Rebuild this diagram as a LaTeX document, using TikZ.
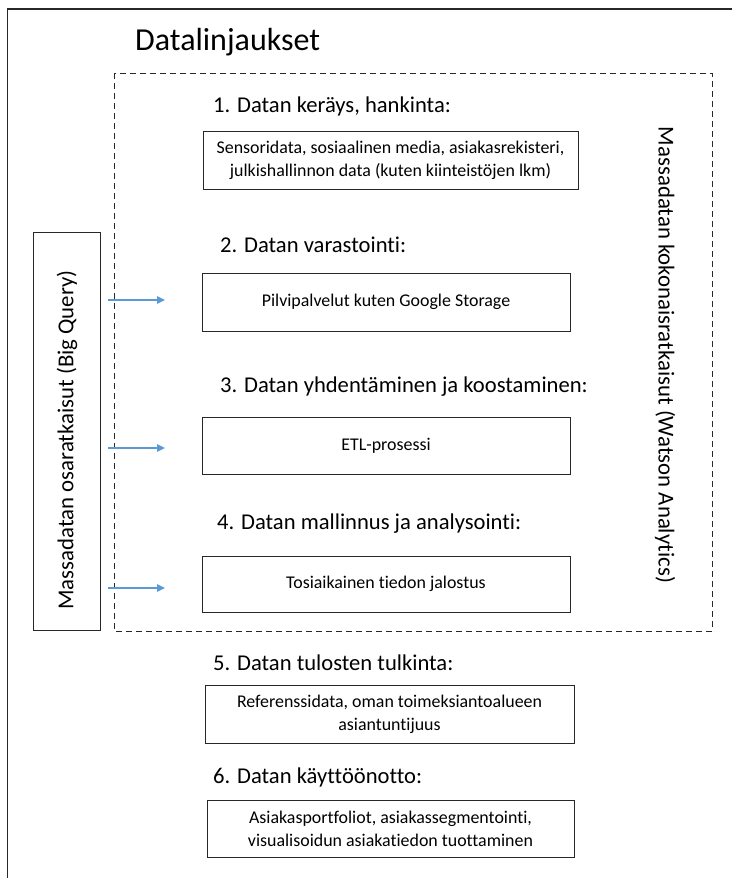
\documentclass[tikz,border=0pt]{standalone}
\usepackage{fontspec}
\setmainfont{Carlito}[Ligatures={NoCommon}]
\usetikzlibrary{arrows.meta}
\definecolor{arrowblue}{RGB}{91,155,213}
\definecolor{linegray}{RGB}{40,40,40}
\tikzset{
  x=1pt,y=-1pt,
  infobox/.style={draw=linegray, line width=1pt, minimum height=58pt, align=center, font=\fontsize{17.9}{23}\selectfont, inner sep=0pt},
  heading/.style={anchor=west, font=\fontsize{22.6}{26}\selectfont, inner sep=0pt},
  sidetext/.style={font=\fontsize{22.8}{26}\selectfont, inner sep=0pt},
  bluearrow/.style={draw=arrowblue, line width=1.1pt, -{Triangle[length=8pt,width=7.5pt]}}
}
\begin{document}
\begin{tikzpicture}
\useasboundingbox (0,0) rectangle (732,878);
% outer frame (only top and left visible)
\coordinate (ftl) at (7.5,9);
\coordinate (ftr) at (732,9);
\coordinate (fbl) at (7.5,878);
\draw[linegray, line width=1.4pt] (ftr) -- (ftl) -- (fbl);
% title
\node[anchor=west, font=\fontsize{32}{36}\selectfont, inner sep=0pt] (title) at (135,42) {Datalinjaukset};
% dashed region
\draw[linegray, line width=1pt, dash pattern=on 6pt off 4pt] (114,73) rectangle (712,631);
\node[sidetext, rotate=-90] (watson) at (665,355) {Massadatan kokonaisratkaisut (Watson Analytics)};
% left box
\node[draw=linegray, line width=1pt, minimum width=67pt, minimum height=398pt, inner sep=0pt] (bq) at (66.5,431) {};
\node[sidetext, rotate=90] (bqtext) at (67,440) {Massadatan osaratkaisut (Big Query)};
% headings
\node[heading] (h1) at (213,106) {1. Datan keräys, hankinta:};
\node[heading] (h2) at (220,245) {2. Datan varastointi:};
\node[heading] (h3) at (220,387) {3. Datan yhdentäminen ja koostaminen:};
\node[heading] (h4) at (217,524) {4. Datan mallinnus ja analysointi:};
\node[heading] (h5) at (213,663) {5. Datan tulosten tulkinta:};
\node[heading] (h6) at (213,777) {6. Datan käyttöönotto:};
% boxes
\node[infobox, minimum width=375pt] (b1) at (390.5,160) {Sensoridata, sosiaalinen media, asiakasrekisteri,\\julkishallinnon data (kuten kiinteistöjen lkm)};
\node[infobox, minimum width=368pt] (b2) at (386,302) {Pilvipalvelut kuten Google Storage};
\node[infobox, minimum width=368pt, minimum height=57pt] (b3) at (386,445.5) {ETL-prosessi};
\node[infobox, minimum width=368pt, minimum height=56pt] (b4) at (386,584) {Tosiaikainen tiedon jalostus};
\node[infobox, minimum width=369pt] (b5) at (389.5,714) {Referenssidata, oman toimeksiantoalueen\\asiantuntijuus};
\node[infobox, minimum width=367pt, minimum height=57pt] (b6) at (390.5,828.5) {Asiakasportfoliot, asiakassegmentointi,\\visualisoidun asiakatiedon tuottaminen};
% arrows
\coordinate (a2s) at (108,300);
\coordinate (a2e) at (165,300);
\coordinate (a3s) at (108,448);
\coordinate (a3e) at (165,448);
\coordinate (a4s) at (108,588);
\coordinate (a4e) at (165,588);
\draw[bluearrow] (a2s) -- (a2e);
\draw[bluearrow] (a3s) -- (a3e);
\draw[bluearrow] (a4s) -- (a4e);
\end{tikzpicture}
\end{document}
